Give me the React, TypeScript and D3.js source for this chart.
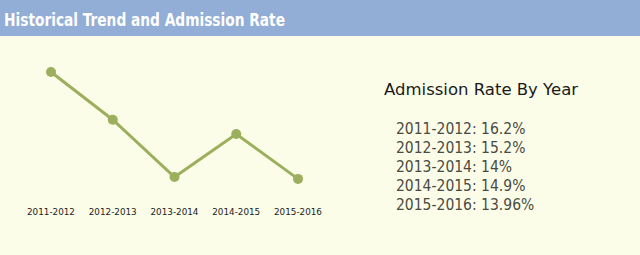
import React from "react";
import * as d3 from "d3";

const categories = ["2011-2012", "2012-2013", "2013-2014", "2014-2015", "2015-2016"];
const rates = [16.2, 15.2, 14, 14.9, 13.96];
const rateLabels = ["16.2%", "15.2%", "14%", "14.9%", "13.96%"];

const W = 640;
const H = 255;

export default function App() {
  const x = d3.scalePoint<string>().domain(categories).range([51, 298]).padding(0);
  const y = d3.scaleLinear().domain([13, 17]).range([224.7, 33.8]);
  const line = d3
    .line<number>()
    .x((_, i) => x(categories[i]) as number)
    .y((d) => y(d));

  return (
    <svg
      width={W}
      height={H}
      style={{ position: "fixed", left: 0, top: 0 }}
    >
      <rect x={0} y={0} width={W} height={H} fill="#fbfde9" />
      <rect x={0} y={0} width={W} height={36} fill="#93aed6" />
      <text
        x={4}
        y={26}
        fill="#ffffff"
        fontFamily="'DejaVu Sans Condensed', 'DejaVu Sans', sans-serif"
        fontWeight="bold"
        fontSize={18.5}
        textLength={281}
        lengthAdjust="spacingAndGlyphs"
      >
        Historical Trend and Admission Rate
      </text>
      <path d={line(rates) || ""} fill="none" stroke="#9caf5c" strokeWidth={3} />
      {rates.map((r, i) => (
        <circle key={i} cx={x(categories[i])} cy={y(r)} r={5} fill="#9caf5c" />
      ))}
      {categories.map((c) => (
        <text
          key={c}
          x={x(c)}
          y={215}
          textAnchor="middle"
          fontFamily="'DejaVu Sans', sans-serif"
          fontSize={8.8}
          fill="#222"
        >
          {c}
        </text>
      ))}
      <text
        x={384}
        y={95}
        fontFamily="'DejaVu Sans', sans-serif"
        fontSize={16.5}
        fill="#1a1a1a"
      >
        Admission Rate By Year
      </text>
      {categories.map((c, i) => (
        <text
          key={c}
          x={396}
          y={134 + i * 19}
          fontFamily="'DejaVu Sans Condensed', 'DejaVu Sans', sans-serif"
          fontSize={15.5}
          fill="#4a4a42"
        >
          {`${c}: ${rateLabels[i]}`}
        </text>
      ))}
    </svg>
  );
}
